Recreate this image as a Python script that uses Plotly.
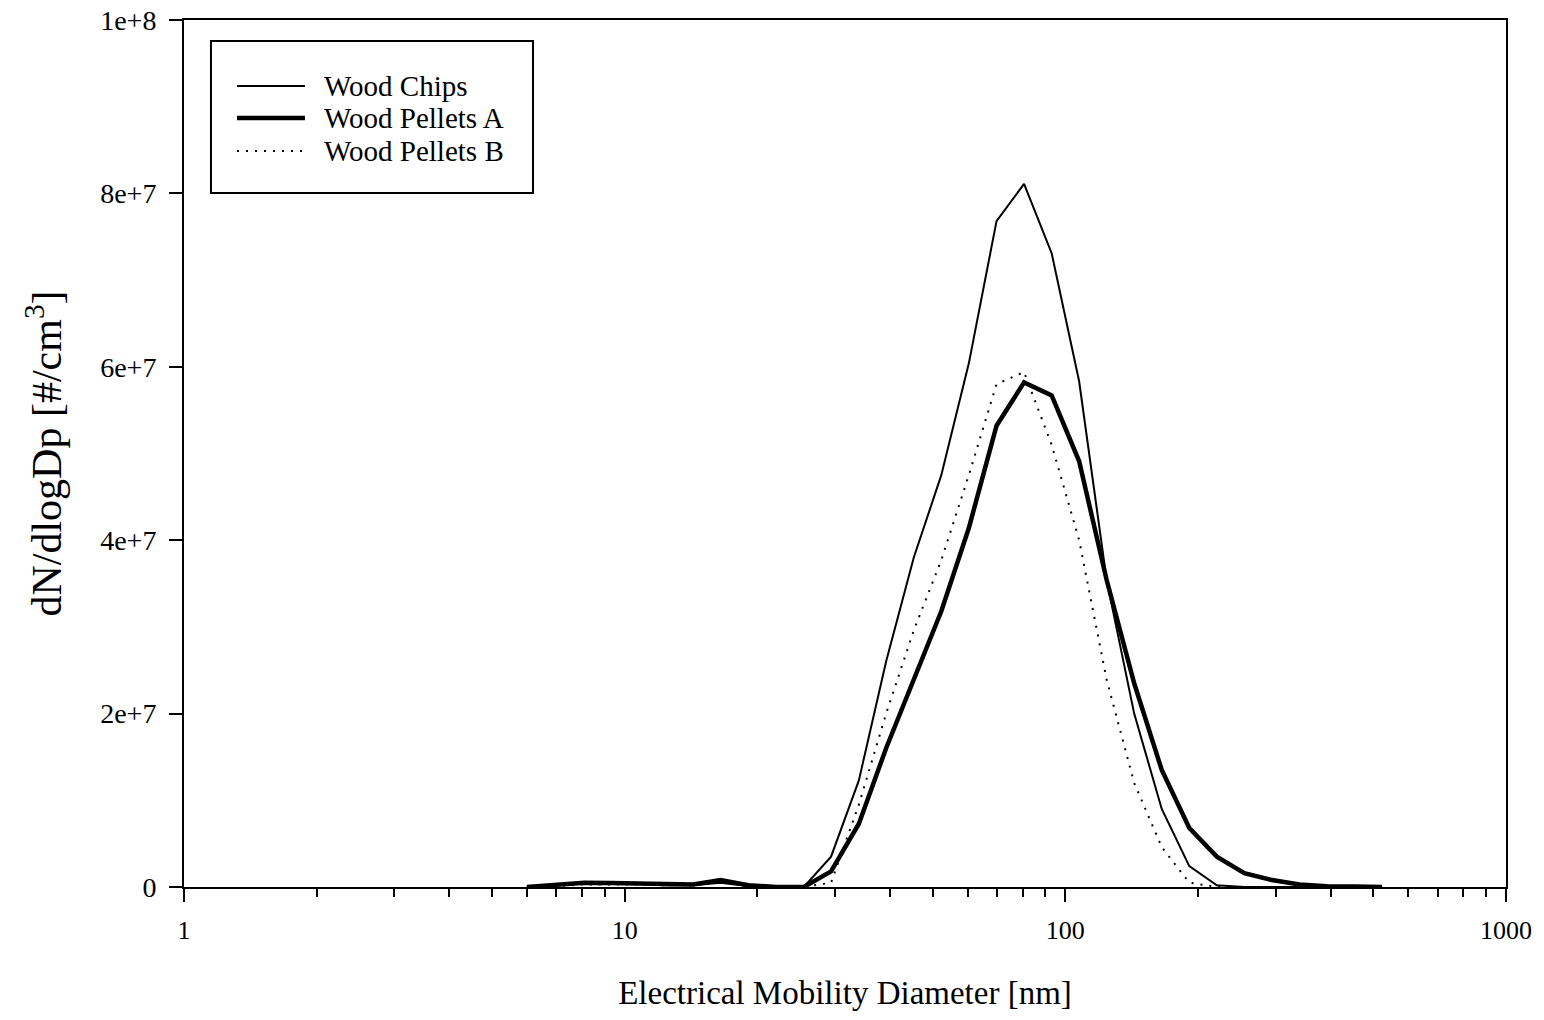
import plotly.graph_objects as go

# Electrical mobility diameter bins [nm]
diameters = [6.0, 7.0, 8.1, 9.3, 10.7, 12.4, 14.3, 16.5, 19.1, 22.1, 25.5, 29.4,
             34.0, 39.2, 45.3, 52.3, 60.4, 69.8, 80.6, 93.1, 107.5, 124.1, 143.3,
             165.5, 191.1, 220.7, 254.8, 294.3, 339.8, 392.4, 453.1, 523.3]

# dN/dlogDp [#/cm3]
wood_chips = [0, 0.2e6, 0.4e6, 0.4e6, 0.35e6, 0.2e6, 0.2e6, 0.5e6, 0.1e6, 0, 0, 3.5e6,
              12.3e6, 26.0e6, 38.0e6, 47.5e6, 60.4e6, 76.8e6, 81.1e6, 73.1e6, 58.3e6, 35.4e6, 20.0e6,
              9.0e6, 2.4e6, 0.2e6, 0, 0, 0, 0, 0, 0]
wood_pellets_a = [0, 0.2e6, 0.5e6, 0.45e6, 0.4e6, 0.25e6, 0.3e6, 0.8e6, 0.2e6, 0, 0, 1.8e6,
                  7.3e6, 16.0e6, 24.0e6, 31.8e6, 41.4e6, 53.2e6, 58.2e6, 56.7e6, 49.1e6, 35.4e6, 23.5e6,
                  13.5e6, 6.8e6, 3.5e6, 1.6e6, 0.8e6, 0.3e6, 0.1e6, 0.05e6, 0]
wood_pellets_b = [0, 0.1e6, 0.3e6, 0.3e6, 0.3e6, 0.2e6, 0.2e6, 0.6e6, 0.1e6, 0, 0, 0.5e6,
                  9.5e6, 20.0e6, 29.6e6, 37.7e6, 47.5e6, 58.0e6, 59.4e6, 51.0e6, 40.0e6, 23.9e6, 12.0e6,
                  4.6e6, 0.5e6, 0, 0, 0, 0, 0, 0, 0]

series_names = ["Wood Chips", "Wood Pellets A", "Wood Pellets B"]

y_tickvals = [0, 2e7, 4e7, 6e7, 8e7, 1e8]
y_ticktext = ["0", "2e+7", "4e+7", "6e+7", "8e+7", "1e+8"]
x_tickvals = [1, 10, 100, 1000]
x_ticktext = ["1", "10", "100", "1000"]
x_minor = [m * 10 ** k for k in range(3) for m in range(2, 10)]

FONT = "Liberation Serif"
styles = [dict(color="black", width=2),
          dict(color="black", width=4.5),
          dict(color="black", width=2, dash="2px,7px")]

fig = go.Figure()
for name, ys, st in zip(series_names, [wood_chips, wood_pellets_a, wood_pellets_b], styles):
    fig.add_trace(go.Scatter(x=diameters, y=ys, mode="lines", name=name, line=st,
                             showlegend=False))

# Custom legend box (paper coordinates)
shapes = [dict(type="rect", xref="paper", yref="paper", x0=0.0204, x1=0.264, y0=0.8005, y1=0.9758,
               line=dict(color="black", width=2), fillcolor="white", layer="above")]
annotations = []
legend_y = [0.9239, 0.8870, 0.8489]
for name, st, ly in zip(series_names, styles, legend_y):
    shapes.append(dict(type="line", xref="paper", yref="paper", x0=0.0401, x1=0.0915, y0=ly, y1=ly,
                       line=st, layer="above"))
    annotations.append(dict(xref="paper", yref="paper", x=0.1044, y=ly, xanchor="left", yanchor="middle",
                            text=name, showarrow=False,
                            font=dict(family=FONT, size=29, color="black")))

fig.update_layout(
    width=1544, height=1020,
    paper_bgcolor="white", plot_bgcolor="white",
    margin=dict(l=184, r=38, t=20, b=133, autoexpand=False),
    font=dict(family=FONT, color="black", size=26),
    showlegend=False,
    shapes=shapes,
    annotations=annotations,
    xaxis=dict(type="log", range=[0, 3], tickmode="array", tickvals=x_tickvals, ticktext=x_ticktext,
               ticks="outside", ticklen=13, tickwidth=2, tickcolor="black", ticklabelstandoff=6,
               minor=dict(tickmode="array", tickvals=x_minor, ticks="outside", ticklen=8,
                          tickwidth=2, tickcolor="black", showgrid=False),
               showline=True, linecolor="black", linewidth=2, mirror=True,
               showgrid=False, zeroline=False, automargin=False,
               tickfont=dict(family=FONT, size=26, color="black"),
               title=dict(text="Electrical Mobility Diameter [nm]",
                          font=dict(family=FONT, size=33, color="black"), standoff=37)),
    yaxis=dict(range=[0, 1e8], tickmode="array", tickvals=y_tickvals, ticktext=y_ticktext,
               ticks="outside", ticklen=13, tickwidth=2, tickcolor="black", ticklabelstandoff=7,
               showline=True, linecolor="black", linewidth=2, mirror=True,
               showgrid=False, zeroline=False, automargin=False,
               tickfont=dict(family=FONT, size=28, color="black"),
               title=dict(text="dN/dlogDp [#/cm<sup>3</sup>]",
                          font=dict(family=FONT, size=42, color="black"), standoff=25)),
)

fig.write_html("out.html")
